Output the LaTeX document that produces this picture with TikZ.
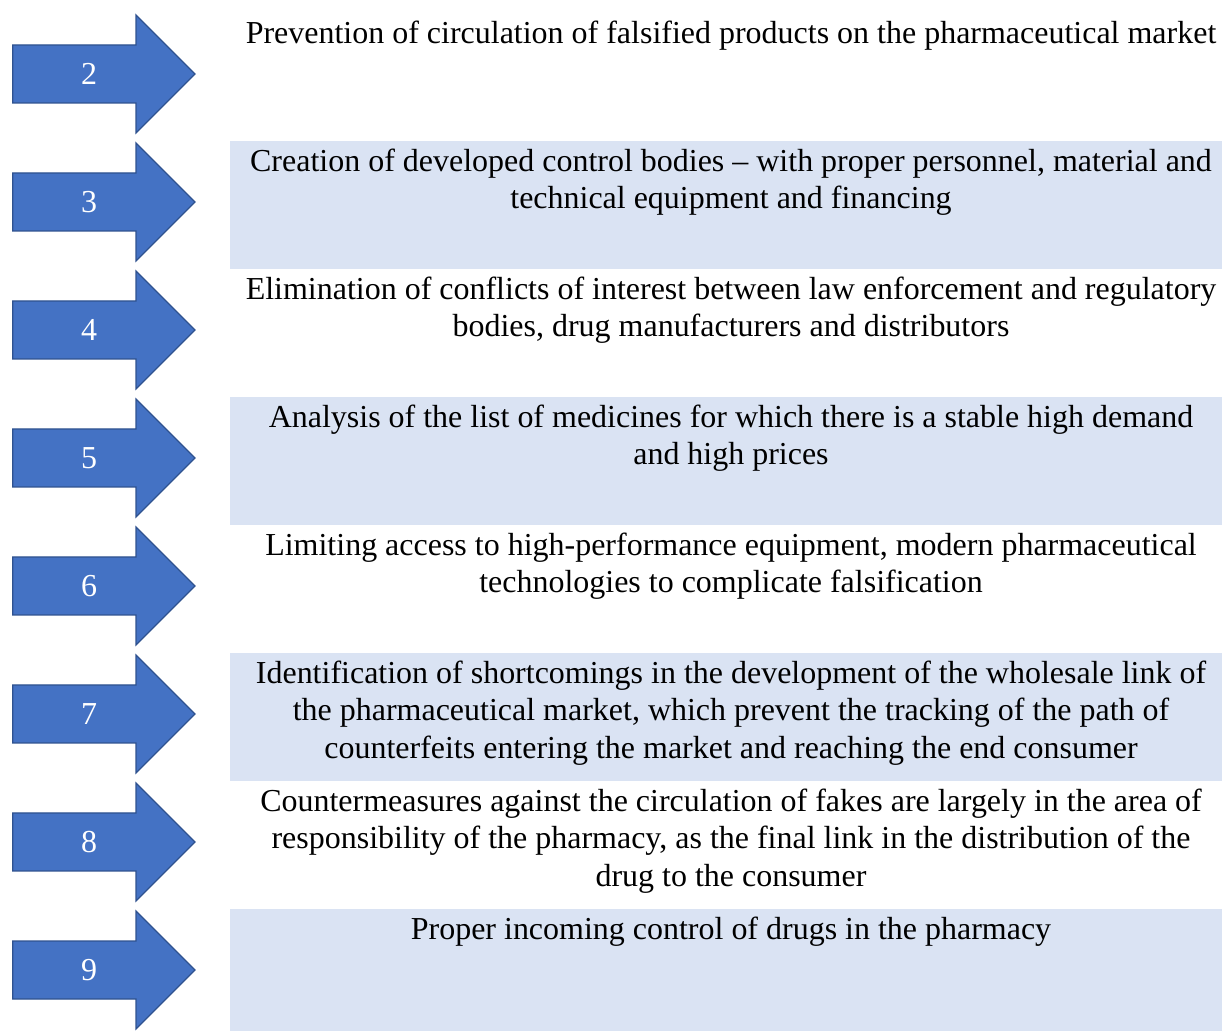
\documentclass[tikz,border=0pt]{standalone}
\usepackage{fontspec}
\setmainfont{Liberation Serif}
\usepackage{xcolor}
\usetikzlibrary{positioning}
\definecolor{arrowblue}{HTML}{4472C4}
\definecolor{arrowedge}{HTML}{2F528F}
\definecolor{bandblue}{HTML}{DAE3F3}

\begin{document}
\begin{tikzpicture}[
    x=0.02cm, y=0.02cm,
    every node/.style={font=\rmfamily\fontsize{18.2}{21.1}\selectfont},
    num/.style={text=white,inner sep=0pt},
    txt/.style={align=center,anchor=north,inner sep=0pt},
    band/.style={fill=bandblue,draw=none},
    arw/.pic={\path[fill=arrowblue,draw=arrowedge,line width=0.7pt,line join=miter]
        (12.7,-29) -- (136,-29) -- (136,-59) -- (195,0) -- (136,59)
        -- (136,29) -- (12.7,29) -- cycle;}
]
\clip (0,0) rectangle (1222,1030);
\useasboundingbox (0,0) rectangle (1222,1030);

% Shaded bands
\fill[band] (230,761) rectangle (1232,889);
\fill[band] (230,505) rectangle (1232,633);
\fill[band] (230,249) rectangle (1232,377);
\fill[band] (230,-7)  rectangle (1232,121);

% Arrows with numbers
\pic at (0,956) {arw};
\pic at (0,828) {arw};
\pic at (0,700) {arw};
\pic at (0,572) {arw};
\pic at (0,444) {arw};
\pic at (0,316) {arw};
\pic at (0,188) {arw};
\pic at (0,60)  {arw};
\node[num] (n2) at (89,956) {2};
\node[num] (n3) at (89,828) {3};
\node[num] (n4) at (89,700) {4};
\node[num] (n5) at (89,572) {5};
\node[num] (n6) at (89,444) {6};
\node[num] (n7) at (89,316) {7};
\node[num] (n8) at (89,188) {8};
\node[num] (n9) at (89,60)  {9};

% Texts
\node[txt] (t2) at (731,1009) {Prevention of circulation of falsified products on the pharmaceutical market};
\node[txt] (t3) at (731,881) {Creation of developed control bodies -- with proper personnel, material and\\
    technical equipment and financing};
\node[txt] (t4) at (731,753) {Elimination of conflicts of interest between law enforcement and regulatory\\
    bodies, drug manufacturers and distributors};
\node[txt] (t5) at (731,625) {Analysis of the list of medicines for which there is a stable high demand\\
    and high prices};
\node[txt] (t6) at (731,497) {Limiting access to high-performance equipment, modern pharmaceutical\\
    technologies to complicate falsification};
\node[txt] (t7) at (731,369) {Identification of shortcomings in the development of the wholesale link of\\
    the pharmaceutical market, which prevent the tracking of the path of\\
    counterfeits entering the market and reaching the end consumer};
\node[txt] (t8) at (731,241) {Countermeasures against the circulation of fakes are largely in the area of\\
    responsibility of the pharmacy, as the final link in the distribution of the\\
    drug to the consumer};
\node[txt] (t9) at (731,113) {Proper incoming control of drugs in the pharmacy};

\end{tikzpicture}
\end{document}
